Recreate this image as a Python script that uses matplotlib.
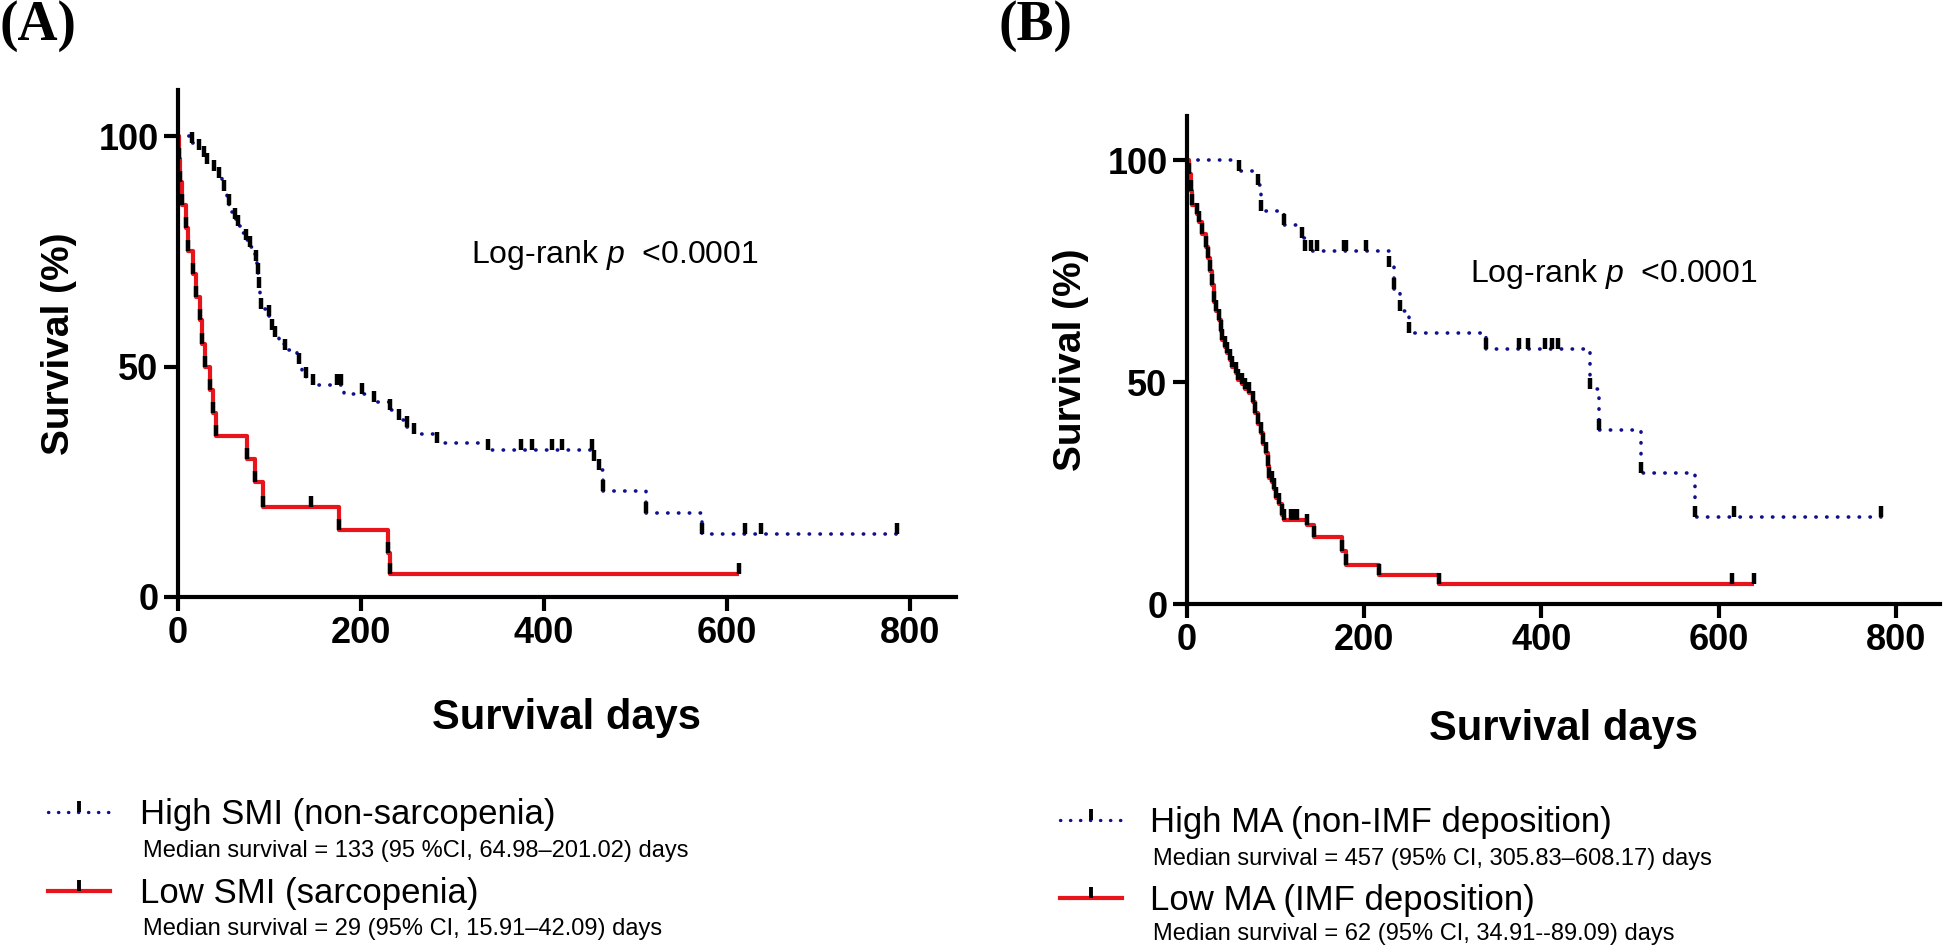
import numpy as np
import matplotlib.pyplot as plt
from matplotlib.lines import Line2D

plt.rcParams["font.family"] = ["Liberation Sans", "DejaVu Sans"]
plt.rcParams["mathtext.fontset"] = "custom"
plt.rcParams["mathtext.rm"] = "Liberation Sans"
plt.rcParams["mathtext.it"] = "Liberation Sans:italic"

BLUE = "#10108c"
RED = "#e8141b"
DOTS = (0, (0.1, 2.9))

# ---- Panel A: SMI groups (days, survival % after each drop) ----
a_high_t = [0, 15.7, 23, 28, 32, 39, 45, 48, 50, 53, 56, 59, 62, 66, 70, 74, 79, 82, 85, 86,
            87.4, 88, 89, 89.6, 90, 90.3, 99, 101, 103, 106, 110, 117, 130, 132, 136, 139.5,
            148, 181, 214, 232, 241, 250, 258, 283, 339, 455, 460, 464, 511, 572]
a_high_s = [100, 98.5, 97, 95.5, 94, 92.5, 91, 89.5, 88, 86.5, 85, 83.5, 82, 80.5, 79, 77.5,
            76, 74.5, 73, 71.5, 70, 68.5, 67, 65.5, 64, 62.5, 61, 59.5, 58, 56.5, 55, 53.5,
            52, 50.5, 49, 47.5, 46, 44, 42.3, 40.5, 38.5, 36.8, 35.3, 33.5, 31.8, 29.5, 27.5,
            23, 18.2, 13.6]
a_high_end = 785
a_high_cens = [15.7, 23, 28, 32, 39, 45, 50, 56, 62, 66, 74, 79, 85, 87.4, 89, 90.3, 99, 103,
               106, 117, 132, 139.5, 148, 174, 178, 201, 214, 232, 241, 250, 258, 283, 339,
               375, 387, 409, 420, 452, 455, 460, 464, 511, 572, 619, 637, 785]

a_low_t = [0, 1, 2, 4, 8.5, 11, 16.5, 20, 24, 26.6, 30, 34.5, 38, 42, 75, 84, 93, 176, 229, 232]
a_low_s = [100, 95, 90, 85, 80, 75, 70, 65, 60, 55, 50, 45, 40, 35, 30, 25, 19.5, 14.5, 9.5, 5]
a_low_end = 613
a_low_cens = [1, 2, 4, 8.5, 11, 16.5, 20, 24, 26.6, 30, 34.5, 38, 42, 75, 84, 93, 145, 176,
              229, 232, 613]

# ---- Panel B: MA groups ----
b_high_t = [0, 58.5, 80, 84, 110, 130, 133, 228, 234, 240, 251, 338, 454.5, 464.7, 513, 574]
b_high_s = [100, 97.5, 94.5, 88.5, 85.5, 82.5, 79.5, 76, 71, 66, 61, 57.5, 48.5, 39.2, 29.5, 19.7]
b_high_end = 783.5
b_high_cens = [58.5, 80, 84, 110, 130, 133, 140, 147, 177, 180, 202, 228, 234, 240, 251, 338,
               375, 385, 404, 412, 419, 454.5, 464.7, 513, 574, 618, 783.5]

b_low_t = [0, 2, 4, 6, 11, 14, 17, 22, 24, 26, 28, 30, 33, 36, 38, 40, 43, 45, 48, 51, 55, 58,
           62, 66, 70, 74, 77, 80, 83, 86, 89, 91, 93, 96, 98, 101, 104, 107, 110, 136, 143,
           175, 179, 217, 285]
b_low_s = [100, 97, 93, 90, 88, 86, 83.5, 80.5, 78, 75, 72, 68, 66, 64, 61.5, 59.5, 58, 56.5,
           55, 53.5, 52, 50.5, 49.5, 48.5, 47.5, 45.5, 43, 40.5, 38.5, 36, 34, 31, 28.5, 27.5,
           26, 24, 22.5, 20, 19, 17.8, 15, 12, 8.8, 6.6, 4.4]
b_low_end = 640
b_low_cens = b_low_t[1:39] + [117, 121, 124, 136, 143, 175, 179, 217, 285, 615, 640]

x_ticks = [0, 200, 400, 600, 800]
y_ticks = [0, 50, 100]

W, H = 1946, 948
fig = plt.figure(figsize=(W / 100, H / 100), dpi=100)


def px_rect(x0, x1, y0, y1):
    return [x0 / W, 1 - y0 / H, (x1 - x0) / W, (y0 - y1) / H]


def km(ax, t, s, end, cens, color, ls, lw):
    tt = list(t) + [end]
    ss = list(s) + [s[-1]]
    ax.step(tt, ss, where="post", color=color, lw=lw, ls=ls,
            dash_capstyle="round", solid_capstyle="butt", zorder=2)
    idx = np.searchsorted(t, cens, side="right") - 1
    ax.plot(cens, np.array(s)[idx], ls="none", marker=2, ms=8, mew=3.2,
            color="black", zorder=3)


def style(ax, xlab_y):
    ax.set_xlim(0, 850)
    ax.set_ylim(0, 110)
    for side in ["top", "right"]:
        ax.spines[side].set_visible(False)
    for side in ["left", "bottom"]:
        ax.spines[side].set_linewidth(3)
    ax.tick_params(width=3, length=10, pad=4)
    ax.set_xticks(x_ticks, labels=[str(v) for v in x_ticks], fontsize=26, fontweight="bold")
    ax.set_yticks(y_ticks, labels=[str(v) for v in y_ticks], fontsize=26, fontweight="bold")
    ax.set_xlabel("Survival days", fontsize=30, fontweight="bold")
    ax.set_ylabel("Survival (%)", fontsize=28, fontweight="bold")
    ax.xaxis.set_label_coords(0.5, xlab_y)
    ax.yaxis.set_label_coords(-0.13, 0.5)
    ax.text(320, 72.5, r"Log-rank $\it{p}$  <0.0001", fontsize=23, va="baseline")


axA = fig.add_axes(px_rect(178, 956, 597, 90))
km(axA, a_high_t, a_high_s, a_high_end, a_high_cens, BLUE, DOTS, 2.6)
km(axA, a_low_t, a_low_s, a_low_end, a_low_cens, RED, "-", 3.0)
style(axA, -0.2)

axB = fig.add_axes(px_rect(1187, 1940, 604, 116))
km(axB, b_high_t, b_high_s, b_high_end, b_high_cens, BLUE, DOTS, 2.6)
km(axB, b_low_t, b_low_s, b_low_end, b_low_cens, RED, "-", 3.0)
style(axB, -0.215)

fig.text(0 / W, 1 - 0 / H, "(A)", family="Liberation Serif", fontweight="bold",
         fontsize=40, va="top", ha="left")
fig.text(998 / W, 1 - 0 / H, "(B)", family="Liberation Serif", fontweight="bold",
         fontsize=40, va="top", ha="left")


def legend_row(x_line, x_text, y_c, label, median, y_med, color, ls, lw):
    yf = 1 - y_c / H
    fig.add_artist(Line2D([x_line / W, (x_line + 62) / W], [yf, yf], color=color, lw=lw,
                          ls=ls, dash_capstyle="round", transform=fig.transFigure))
    fig.add_artist(Line2D([(x_line + 31) / W], [yf], marker=2, ms=8, mew=2.8,
                          color="black", transform=fig.transFigure))
    fig.text(x_text / W, 1 - (y_c + 12) / H, label, fontsize=25, va="baseline")
    fig.text((x_text + 3) / W, 1 - (y_med + 9) / H, median, fontsize=17, va="baseline")


legend_row(48, 140, 812, "High SMI (non-sarcopenia)",
           "Median survival = 133 (95 %CI, 64.98\u2013201.02) days", 848, BLUE, DOTS, 2.4)
legend_row(48, 140, 891, "Low SMI (sarcopenia)",
           "Median survival = 29 (95% CI, 15.91\u201342.09) days", 926, RED, "-", 3.0)
legend_row(1060, 1150, 820, "High MA (non-IMF deposition)",
           "Median survival = 457 (95% CI, 305.83\u2013608.17) days", 856, BLUE, DOTS, 2.4)
legend_row(1060, 1150, 898, "Low MA (IMF deposition)",
           "Median survival = 62 (95% CI, 34.91--89.09) days", 931, RED, "-", 3.0)

fig.savefig("out.png", dpi=100, facecolor="white")
